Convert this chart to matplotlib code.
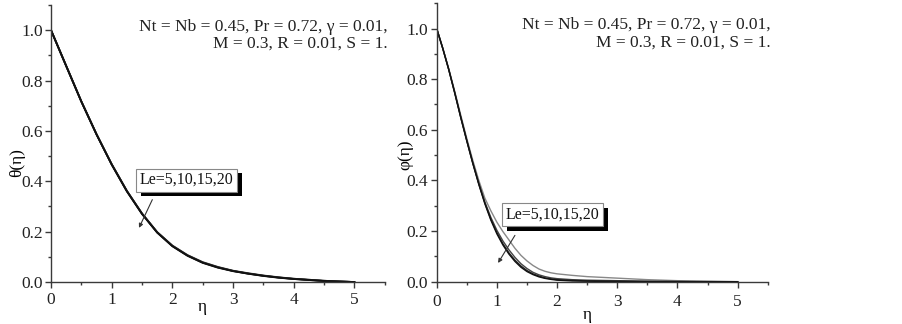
import matplotlib
matplotlib.use("Agg")
import matplotlib.pyplot as plt
import matplotlib.patheffects as pe
from matplotlib.ticker import MultipleLocator

# ---------------- data ----------------
eta_theta = [0, 0.25, 0.5, 0.75, 1.0, 1.25, 1.5, 1.75, 2.0, 2.25, 2.5, 2.75,
             3.0, 3.25, 3.5, 3.75, 4.0, 4.25, 4.5, 4.75, 5.0]
theta_le5 = [1.0, 0.858, 0.717, 0.587, 0.468, 0.362, 0.272, 0.198, 0.145, 0.107, 0.079, 0.060,
             0.045, 0.035, 0.026, 0.019, 0.013, 0.009, 0.005, 0.002, 0.0]
theta_le10 = [1.0, 0.858, 0.717, 0.587, 0.468, 0.362, 0.272, 0.198, 0.144, 0.106, 0.078, 0.059,
              0.044, 0.034, 0.025, 0.018, 0.013, 0.009, 0.005, 0.002, 0.0]
theta_le15 = [1.0, 0.858, 0.717, 0.586, 0.467, 0.361, 0.271, 0.197, 0.143, 0.105, 0.077, 0.058,
              0.044, 0.033, 0.025, 0.018, 0.012, 0.008, 0.004, 0.002, 0.0]
theta_le20 = [1.0, 0.858, 0.716, 0.586, 0.466, 0.360, 0.270, 0.196, 0.142, 0.104, 0.076, 0.057,
              0.043, 0.033, 0.024, 0.017, 0.012, 0.008, 0.004, 0.002, 0.0]

eta_phi = [0, 0.1, 0.2, 0.3, 0.4, 0.5, 0.6, 0.7, 0.8, 0.9, 1.0, 1.1, 1.2, 1.3, 1.4, 1.5,
           1.6, 1.7, 1.8, 1.9, 2.0, 2.25, 2.5, 2.75, 3.0, 3.25, 3.5, 3.75, 4.0, 4.25, 4.5, 4.75, 5.0]
phi_le5 = [1.0, 0.924, 0.842, 0.752, 0.658, 0.566, 0.479, 0.400, 0.330, 0.280, 0.235, 0.198,
           0.165, 0.132, 0.104, 0.082, 0.064, 0.050, 0.041, 0.035, 0.031, 0.025, 0.020, 0.017,
           0.014, 0.011, 0.008, 0.006, 0.004, 0.003, 0.002, 0.001, 0.0]
phi_le10 = [1.0, 0.923, 0.839, 0.747, 0.651, 0.559, 0.471, 0.389, 0.315, 0.254, 0.203, 0.161,
            0.126, 0.096, 0.071, 0.052, 0.037, 0.027, 0.020, 0.015, 0.012, 0.008, 0.006, 0.005,
            0.004, 0.003, 0.002, 0.0015, 0.001, 0.0005, 0.0003, 0.0001, 0.0]
phi_le15 = [1.0, 0.922, 0.838, 0.746, 0.649, 0.557, 0.468, 0.386, 0.311, 0.247, 0.194, 0.150,
            0.114, 0.085, 0.062, 0.044, 0.031, 0.022, 0.015, 0.011, 0.008, 0.005, 0.003, 0.002,
            0.0015, 0.001, 0.0006, 0.0004, 0.0002, 0.0001, 0.0, 0.0, 0.0]
phi_le20 = [1.0, 0.922, 0.838, 0.745, 0.648, 0.556, 0.467, 0.384, 0.308, 0.243, 0.189, 0.145,
            0.109, 0.080, 0.057, 0.040, 0.028, 0.019, 0.013, 0.009, 0.006, 0.003, 0.002, 0.0012,
            0.0008, 0.0005, 0.0003, 0.0002, 0.0001, 0.0, 0.0, 0.0, 0.0]

x_ticks = [0, 1, 2, 3, 4, 5]
y_ticks = [0.0, 0.2, 0.4, 0.6, 0.8, 1.0]
param_text = "Nt = Nb = 0.45, Pr = 0.72, γ = 0.01,\nM = 0.3, R = 0.01, S = 1."
le_label = "Le=5,10,15,20"

# ---------------- style ----------------
plt.rcParams['font.family'] = ['Liberation Serif', 'DejaVu Serif']
axcol = '#3a3a3a'

fig = plt.figure(figsize=(9.03, 3.24), dpi=100)
ax1 = fig.add_axes([0.0565, 0.1296, 0.3695, 0.8550])
ax2 = fig.add_axes([0.4836, 0.1306, 0.3666, 0.8594])


def style(ax, xpad):
    ax.set_xlim(0, 5.5)
    ax.set_ylim(0, 1.1)
    for s in ['top', 'right']:
        ax.spines[s].set_visible(False)
    for s in ['left', 'bottom']:
        ax.spines[s].set_color(axcol)
        ax.spines[s].set_linewidth(1.0)
    ax.set_xticks(x_ticks)
    ax.set_yticks(y_ticks)
    ax.set_yticklabels([f"{v:.1f}" for v in y_ticks])
    ax.xaxis.set_minor_locator(MultipleLocator(0.5))
    ax.yaxis.set_minor_locator(MultipleLocator(0.1))
    ax.tick_params(which='major', direction='out', length=4, width=1, color=axcol,
                   labelsize=12.5, labelcolor='#222222', pad=2)
    ax.tick_params(axis='x', which='major', pad=xpad)
    ax.tick_params(which='minor', direction='out', length=2.5, width=1, color=axcol)


style(ax1, 3)
style(ax2, 5)

# theta curves
for ys, c in zip([theta_le5, theta_le10, theta_le15, theta_le20],
                 ['#555555', '#333333', '#222222', '#111111']):
    ax1.plot(eta_theta, ys, color=c, lw=1.3)

# phi curves
for ys, c in zip([phi_le5, phi_le10, phi_le15, phi_le20],
                 ['#888888', '#444444', '#222222', '#111111']):
    ax2.plot(eta_phi, ys, color=c, lw=1.0)

ax1.set_ylabel("θ(η)", fontsize=12.5)
ax2.set_ylabel("φ(η)", fontsize=12.5)
ax1.set_xlabel("η", fontsize=12.5)
ax2.set_xlabel("η", fontsize=12.5)
ax1.xaxis.set_label_coords(2.5 / 5.5, -0.06, transform=ax1.transAxes)
ax2.xaxis.set_label_coords(2.5 / 5.5, -0.09, transform=ax2.transAxes)
ax1.yaxis.set_label_coords(-0.078, 0.43)
ax2.yaxis.set_label_coords(-0.07, 0.455)

for ax in (ax1, ax2):
    ax.text(1.01, 0.95, param_text, transform=ax.transAxes, ha='right', va='top',
            fontsize=12.5, color='#222222', linespacing=1.1)


def le_box(ax, tx, ty, start, end):
    ax.annotate('', xy=end, xytext=start,
                arrowprops=dict(arrowstyle='-|>', color='#333333', lw=0.8,
                                mutation_scale=6, shrinkA=0, shrinkB=0))
    t = ax.text(tx, ty, le_label, ha='center', va='center', fontsize=11.5, color='#111111',
                bbox=dict(boxstyle='square,pad=0.22', fc='white', ec='#888888', lw=0.8))
    t.get_bbox_patch().set_path_effects([
        pe.SimplePatchShadow(offset=(3.5, -3.5), shadow_rgbFace='black', alpha=1.0),
        pe.Normal()])


le_box(ax1, 2.23, 0.405, (1.67, 0.327), (1.45, 0.215))
le_box(ax2, 1.92, 0.265, (1.30, 0.183), (1.02, 0.074))

fig.savefig("out.png", dpi=100)
